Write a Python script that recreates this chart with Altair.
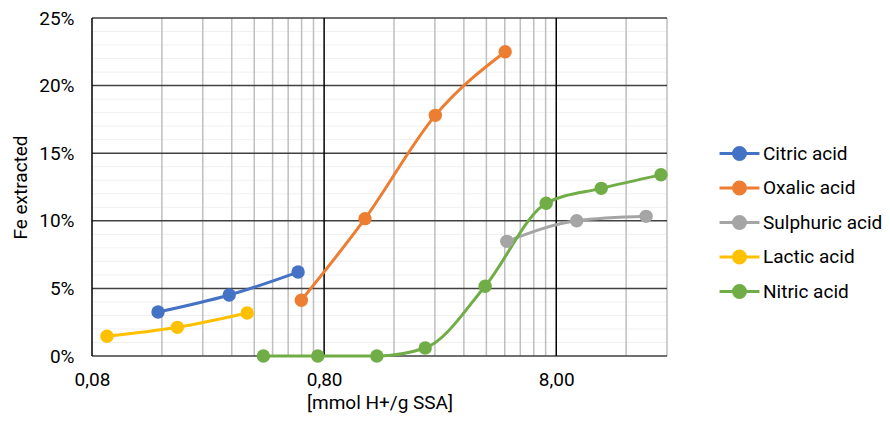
import altair as alt
import pandas as pd

series_names = ["Citric acid", "Oxalic acid", "Sulphuric acid", "Lactic acid", "Nitric acid"]
colors = ["#4472C4", "#ED7D31", "#A5A5A5", "#FFC000", "#70AD47"]

citric_x = [0.154, 0.312, 0.618]
citric_y = [0.0325, 0.0451, 0.0621]
oxalic_x = [0.638, 1.20, 2.41, 4.82]
oxalic_y = [0.0412, 0.1016, 0.178, 0.225]
sulphuric_x = [4.9, 9.8, 19.5]
sulphuric_y = [0.0848, 0.100, 0.1033]
lactic_x = [0.0928, 0.1866, 0.373]
lactic_y = [0.0146, 0.0212, 0.0318]
nitric_x = [0.438, 0.751, 1.35, 2.18, 3.95, 7.24, 12.5, 22.6]
nitric_y = [0.0, 0.0, 0.0, 0.0059, 0.0516, 0.113, 0.124, 0.134]

x_major = [0.08, 0.8, 8.0]
x_minor = [0.16, 0.24, 0.32, 0.40, 0.48, 0.56, 0.64, 0.72,
           1.6, 2.4, 3.2, 4.0, 4.8, 5.6, 6.4, 7.2, 16.0, 24.0]
y_major = [0.0, 0.05, 0.10, 0.15, 0.20, 0.25]
y_minor = [0.01, 0.02, 0.03, 0.04, 0.06, 0.07, 0.08, 0.09, 0.11, 0.12, 0.13, 0.14,
           0.16, 0.17, 0.18, 0.19, 0.21, 0.22, 0.23, 0.24]

rows = []
for name, xs, ys in [("Citric acid", citric_x, citric_y), ("Oxalic acid", oxalic_x, oxalic_y),
                     ("Sulphuric acid", sulphuric_x, sulphuric_y), ("Lactic acid", lactic_x, lactic_y),
                     ("Nitric acid", nitric_x, nitric_y)]:
    for i, (a, b) in enumerate(zip(xs, ys)):
        rows.append({"series": name, "x": a, "y": b, "order": i})
df = pd.DataFrame(rows)

xscale = alt.Scale(type="log", domain=[0.08, 24], nice=False)
yscale = alt.Scale(domain=[0, 0.25], nice=False)

font = "Roboto"
fs = 19

ygrid_minor = alt.Chart(pd.DataFrame({"v": y_minor})).mark_rule(color="#f0f0f0", strokeWidth=1).encode(
    y=alt.Y("v:Q", scale=yscale))
xgrid_minor = alt.Chart(pd.DataFrame({"v": x_minor})).mark_rule(color="#bfbfbf", strokeWidth=1.5).encode(
    x=alt.X("v:Q", scale=xscale))
ygrid_major = alt.Chart(pd.DataFrame({"v": y_major})).mark_rule(color="#404040", strokeWidth=1.5).encode(
    y=alt.Y("v:Q", scale=yscale))
xgrid_major = alt.Chart(pd.DataFrame({"v": x_major})).mark_rule(color="#000000", strokeWidth=1.5).encode(
    x=alt.X("v:Q", scale=xscale))

color = alt.Color("series:N", scale=alt.Scale(domain=series_names, range=colors),
                  sort=series_names,
                  legend=alt.Legend(title=None, orient="none", legendX=631, legendY=119,
                                    symbolType="M-1.33,0L1.33,0M0.4,0A0.4,0.4 0 1,1 -0.4,0A0.4,0.4 0 1,1 0.4,0Z",
                                    symbolSize=900, symbolStrokeWidth=3, labelOffset=7,
                                    labelFontSize=fs, labelFont=font, labelColor="#000000",
                                    rowPadding=5.5, labelLimit=250))

xaxis = alt.Axis(values=x_major, labelExpr="replace(format(datum.value, '.2f'), '.', ',')",
                 grid=False, domain=False, ticks=False, labelFontSize=fs, labelFont=font,
                 labelColor="#000000", labelPadding=14, title="[mmol H+/g SSA]",
                 titleFontSize=fs, titleFont=font, titleFontWeight="normal", titleColor="#000000",
                 titlePadding=4, labelFlush=False)
yaxis = alt.Axis(values=y_major, format=".0%", grid=False, domain=False, ticks=False,
                 labelFontSize=fs, labelFont=font, labelColor="#000000", labelPadding=18,
                 title="Fe extracted", titleFontSize=fs, titleFont=font, titleFontWeight="normal",
                 titleColor="#000000", titlePadding=8)

base = alt.Chart(df).encode(
    x=alt.X("x:Q", scale=xscale, axis=xaxis),
    y=alt.Y("y:Q", scale=yscale, axis=yaxis),
    color=color,
    order="order:Q",
    detail="series:N",
)
lines = base.mark_line(strokeWidth=3, interpolate="monotone")
points = base.mark_point(filled=True, size=180, opacity=1)

chart = alt.layer(ygrid_minor, xgrid_minor, ygrid_major, xgrid_major, lines, points).properties(
    width=575, height=338,
    autosize=alt.AutoSizeParams(type="none"),
    padding={"left": 84, "top": 10, "right": 215, "bottom": 59},
).configure_view(stroke=None)

chart.save("out.html", embed_options={"renderer": "svg", "actions": False})
